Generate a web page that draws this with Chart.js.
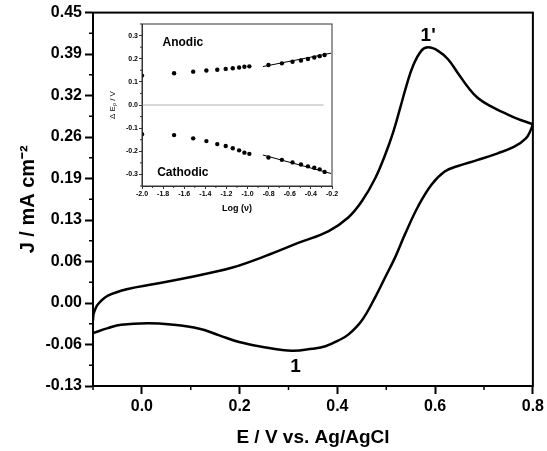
<!DOCTYPE html>
<html>
<head>
<meta charset="utf-8">
<script src="https://cdn.jsdelivr.net/npm/chart.js@4.4.0/dist/chart.umd.min.js"></script>
<style>
  html, body { margin: 0; padding: 0; background: #ffffff; }
  #wrap { position: relative; width: 547px; height: 451px; }
  #mainChart { position: absolute; left: 0; top: 0; }
  #insetChart { position: absolute; left: 100px; top: 14px; }
</style>
</head>
<body>
<div id="wrap">
  <canvas id="mainChart" width="547" height="451"></canvas>
  <canvas id="insetChart" width="240" height="206"></canvas>
</div>
<script>
// ===== Main CV curve (J vs E) =====
// forward (anodic) scan, -0.1 -> 0.8 V
const upperV = [
  -0.1, -0.099, -0.0965, -0.0919, -0.0864, -0.0695, -0.0288, 0.0255, 0.0797, 0.134,
  0.1855, 0.2534, 0.3212, 0.3822, 0.4229, 0.45, 0.4772, 0.4976, 0.5144, 0.5281,
  0.5415, 0.5551, 0.572, 0.5857, 0.606, 0.6263, 0.6467, 0.667, 0.6874, 0.7144,
  0.7417, 0.7688, 0.7958, 0.8
];
const upperJ = [
  -0.0282, -0.019, -0.0128, -0.0051, 0.0, 0.0104, 0.0207, 0.0284, 0.0361, 0.0448,
  0.054, 0.0721, 0.0926, 0.1106, 0.1322, 0.1569, 0.1924, 0.2289, 0.2649, 0.3008,
  0.3369, 0.3678, 0.3909, 0.396, 0.3906, 0.3775, 0.3559, 0.3343, 0.3173, 0.3042,
  0.2942, 0.2849, 0.2777, 0.2765
];

// reverse (cathodic) scan, listed left to right
const lowerV = [
  -0.1, -0.0695, -0.0424, 0.0119, 0.0593, 0.1177, 0.1584, 0.1991, 0.2534, 0.3075,
  0.3482, 0.3755, 0.4025, 0.4229, 0.45, 0.4772, 0.4976, 0.5179, 0.5382, 0.5653,
  0.5925, 0.6196, 0.6467, 0.6874, 0.728, 0.762, 0.7857, 0.7958, 0.8
];
const lowerJ = [
  -0.0478, -0.0401, -0.0348, -0.0324, -0.0344, -0.041, -0.0513, -0.0617, -0.0703, -0.0753,
  -0.0722, -0.0683, -0.0591, -0.0498, -0.0282, 0.0077, 0.0386, 0.0694, 0.1055, 0.1492,
  0.1827, 0.2032, 0.2117, 0.2212, 0.2314, 0.2417, 0.2546, 0.268, 0.2765
];

// axis ticks of the main plot
const xTicks = [0.0, 0.2, 0.4, 0.6, 0.8];
const xTickLabels = ['0.0', '0.2', '0.4', '0.6', '0.8'];
const xMinor = [-0.1, 0.1, 0.3, 0.5, 0.7];
const yMin = -0.13, yMax = 0.45;
const yTickLabels = ['-0.13', '-0.06', '0.00', '0.06', '0.13', '0.19', '0.26', '0.32', '0.39', '0.45'];

// ===== Inset: peak shift vs log(scan rate) =====
const logV = [
  -2.0, -1.696, -1.515, -1.39, -1.287, -1.207, -1.14, -1.08, -1.03, -0.983,
  -0.802, -0.675, -0.574, -0.494, -0.428, -0.368, -0.317, -0.27
];
const anodic = [
  0.127, 0.137, 0.144, 0.149, 0.152, 0.156, 0.159, 0.162, 0.165, 0.167,
  0.173, 0.180, 0.187, 0.192, 0.199, 0.205, 0.211, 0.216
];
const cathodic = [
  -0.126, -0.130, -0.144, -0.156, -0.169, -0.177, -0.187, -0.196, -0.206, -0.211,
  -0.227, -0.237, -0.248, -0.257, -0.265, -0.271, -0.278, -0.289
];
const fitX = [-0.855, -0.209];
const fitAnodic = [0.166, 0.224];
const fitCathodic = [-0.216, -0.296];
const zeroX = [-2.0, -0.28];
const zeroY = [0, 0];

const insetXTicks = [-2.0, -1.8, -1.6, -1.4, -1.2, -1.0, -0.8, -0.6, -0.4, -0.2];
const insetXLabels = ['-2.0', '-1.8', '-1.6', '-1.4', '-1.2', '-1.0', '-0.8', '-0.6', '-0.4', '-0.2'];
const insetYTicks = [-0.3, -0.2, -0.1, 0.0, 0.1, 0.2, 0.3];
const insetYLabels = ['-0.3', '-0.2', '-0.1', '0.0', '0.1', '0.2', '0.3'];

const FONT = "'Liberation Sans', Arial, sans-serif";
const pts = (xs, ys) => xs.map((x, i) => ({ x: x, y: ys[i] }));

// evenly spaced y ticks (the labels are rounded in the original figure)
const yTicks = yTickLabels.map((_, i) => yMin + i * (yMax - yMin) / (yTickLabels.length - 1));
const yMinor = yTicks.slice(1).map((v, i) => (v + yTicks[i]) / 2);
const insetXMinor = insetXTicks.slice(1).map((v, i) => (v + insetXTicks[i]) / 2);
const insetYMinor = insetYTicks.slice(1).map((v, i) => (v + insetYTicks[i]) / 2)
  .concat([-0.35, 0.35]);

// small ticks between the labelled ones + box round the plot
const framePlugin = {
  id: 'frame',
  afterDraw(chart, args, opts) {
    const { ctx, chartArea: a, scales } = chart;
    ctx.save();
    ctx.strokeStyle = opts.color;
    ctx.lineWidth = opts.minorWidth;
    ctx.beginPath();
    opts.xMinor.forEach(v => {
      const px = scales.x.getPixelForValue(v);
      ctx.moveTo(px, a.bottom);
      ctx.lineTo(px, a.bottom + opts.minorLen);
    });
    opts.yMinor.forEach(v => {
      const py = scales.y.getPixelForValue(v);
      ctx.moveTo(a.left, py);
      ctx.lineTo(a.left - opts.minorLen, py);
    });
    ctx.stroke();
    ctx.lineWidth = opts.frameWidth;
    ctx.strokeRect(a.left, a.top, a.right - a.left, a.bottom - a.top);
    ctx.restore();
  }
};

// text written at data positions (peak numbers, Anodic / Cathodic)
const textPlugin = {
  id: 'notes',
  afterDatasetsDraw(chart, args, opts) {
    const { ctx, scales } = chart;
    ctx.save();
    ctx.fillStyle = '#000';
    ctx.textAlign = 'center';
    ctx.textBaseline = 'middle';
    opts.items.forEach(t => {
      ctx.font = t.font;
      ctx.fillText(t.text, scales.x.getPixelForValue(t.x), scales.y.getPixelForValue(t.y));
    });
    ctx.restore();
  }
};

new Chart(document.getElementById('mainChart'), {
  type: 'line',
  data: {
    datasets: [
      {
        data: pts(upperV, upperJ),
        borderColor: '#000000',
        borderWidth: 2.5,
        pointRadius: 0,
        tension: 0.4
      },
      {
        data: pts(lowerV, lowerJ),
        borderColor: '#000000',
        borderWidth: 2.5,
        pointRadius: 0,
        tension: 0.4
      }
    ]
  },
  options: {
    responsive: false,
    animation: false,
    layout: { padding: { top: 10, right: 12, left: 0, bottom: 0 } },
    plugins: {
      legend: { display: false },
      tooltip: { enabled: false },
      frame: { color: '#000', minorWidth: 1.5, minorLen: 4, frameWidth: 2, xMinor: xMinor, yMinor: yMinor },
      notes: {
        items: [
          { text: "1'", x: 0.5857, y: 0.4145, font: 'bold 19px ' + FONT },
          { text: '1', x: 0.3144, y: -0.1003, font: 'bold 19px ' + FONT }
        ]
      }
    },
    scales: {
      x: {
        type: 'linear',
        min: -0.1,
        max: 0.8,
        afterBuildTicks: s => { s.ticks = xTicks.map(v => ({ value: v })); },
        afterFit: s => { s.height = 65; },
        ticks: {
          callback: (v, i) => xTickLabels[i],
          color: '#000',
          font: { family: FONT, size: 16, weight: 'bold' },
          padding: 3,
          maxRotation: 0,
          autoSkip: false
        },
        grid: { drawOnChartArea: false, tickLength: 8, tickWidth: 2, tickColor: '#000' },
        border: { display: true, color: '#000', width: 2 },
        title: {
          display: true,
          text: 'E / V vs. Ag/AgCl',
          color: '#000',
          font: { family: FONT, size: 19, weight: 'bold' },
          padding: { top: 0, bottom: 2 }
        }
      },
      y: {
        type: 'linear',
        min: yMin,
        max: yMax,
        afterBuildTicks: s => { s.ticks = yTicks.map(v => ({ value: v })); },
        afterFit: s => { s.width = 93; },
        ticks: {
          callback: (v, i) => yTickLabels[i],
          color: '#000',
          font: { family: FONT, size: 16, weight: 'bold' },
          padding: 3,
          autoSkip: false
        },
        grid: { drawOnChartArea: false, tickLength: 8, tickWidth: 2, tickColor: '#000' },
        border: { display: true, color: '#000', width: 2 },
        title: {
          display: true,
          text: 'J / mA cm\u207B\u00B2',
          color: '#000',
          font: { family: FONT, size: 20, weight: 'bold' },
          padding: { top: 16, bottom: 0 }
        }
      }
    }
  },
  plugins: [framePlugin, textPlugin]
});

const dot = {
  showLine: false,
  pointRadius: 2.2,
  pointBackgroundColor: '#000',
  pointBorderWidth: 0,
  borderColor: '#000'
};

new Chart(document.getElementById('insetChart'), {
  type: 'line',
  data: {
    datasets: [
      { data: pts(zeroX, zeroY), borderColor: '#b0b0b0', borderWidth: 1, pointRadius: 0 },
      { data: pts(fitX, fitAnodic), borderColor: '#000', borderWidth: 1, pointRadius: 0 },
      { data: pts(fitX, fitCathodic), borderColor: '#000', borderWidth: 1, pointRadius: 0 },
      Object.assign({ data: pts(logV, anodic) }, dot),
      Object.assign({ data: pts(logV, cathodic) }, dot)
    ]
  },
  options: {
    responsive: false,
    animation: false,
    layout: { padding: { top: 10, right: 8, left: 0, bottom: 0 } },
    plugins: {
      legend: { display: false },
      tooltip: { enabled: false },
      frame: { color: '#333', minorWidth: 1, minorLen: 2, frameWidth: 1, xMinor: insetXMinor, yMinor: insetYMinor },
      notes: {
        items: [
          { text: 'Anodic', x: -1.613, y: 0.268, font: 'bold 12px ' + FONT },
          { text: 'Cathodic', x: -1.613, y: -0.294, font: 'bold 12px ' + FONT }
        ]
      }
    },
    scales: {
      x: {
        type: 'linear',
        min: -2.0,
        max: -0.2,
        afterBuildTicks: s => { s.ticks = insetXTicks.map(v => ({ value: v })); },
        afterFit: s => { s.height = 34; },
        ticks: {
          callback: (v, i) => insetXLabels[i],
          color: '#000',
          font: { family: FONT, size: 7, weight: 'bold' },
          padding: 1,
          maxRotation: 0,
          autoSkip: false
        },
        grid: { drawOnChartArea: false, tickLength: 3, tickWidth: 1, tickColor: '#333' },
        border: { display: true, color: '#333', width: 1 },
        title: {
          display: true,
          text: 'Log (\u03BD)',
          color: '#000',
          font: { family: FONT, size: 9, weight: 'bold' },
          padding: { top: 0, bottom: 6 }
        }
      },
      y: {
        type: 'linear',
        min: -0.35,
        max: 0.35,
        afterBuildTicks: s => { s.ticks = insetYTicks.map(v => ({ value: v })); },
        afterFit: s => { s.width = 42; },
        ticks: {
          callback: (v, i) => insetYLabels[i],
          color: '#000',
          font: { family: FONT, size: 7, weight: 'bold' },
          padding: 1,
          autoSkip: false
        },
        grid: { drawOnChartArea: false, tickLength: 3, tickWidth: 1, tickColor: '#333' },
        border: { display: true, color: '#333', width: 1 },
        title: {
          display: true,
          text: '\u0394 E\u209A / V',
          color: '#000',
          font: { family: FONT, size: 8 },
          padding: { top: 8, bottom: 0 }
        }
      }
    }
  },
  plugins: [framePlugin, textPlugin]
});
</script>
</body>
</html>
